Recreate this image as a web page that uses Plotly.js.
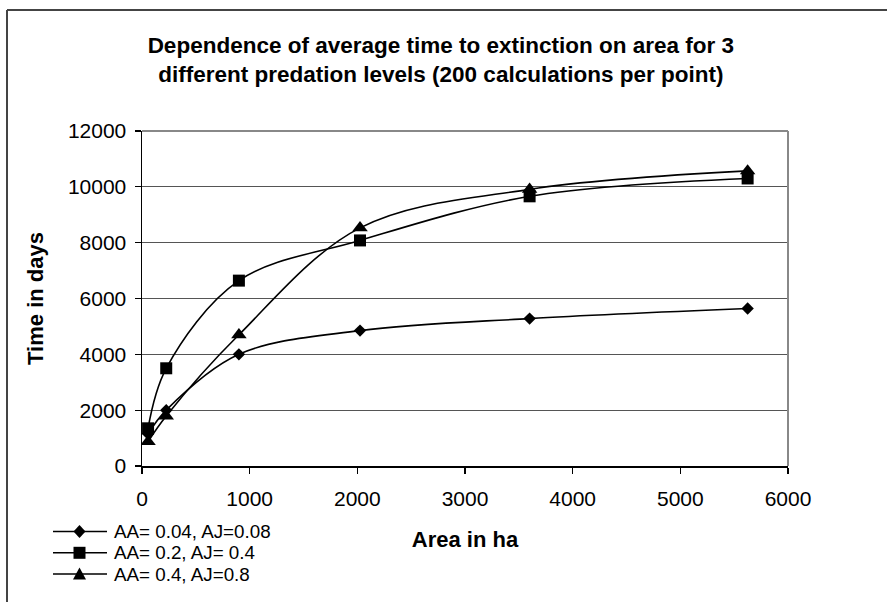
<!DOCTYPE html>
<html>
<head>
<meta charset="utf-8">
<script src="https://cdn.plot.ly/plotly-3.0.1.min.js"></script>
<style>html,body{margin:0;padding:0;background:#fff;}#chart{width:887px;height:602px;}</style>
</head>
<body>
<div id="chart"></div>
<script>
// Data
const areas = [56.25, 225, 900, 2025, 3600, 5625];
const seriesNames = ["AA= 0.04, AJ=0.08", "AA= 0.2, AJ= 0.4", "AA= 0.4, AJ=0.8"];
const lowPredation = [1150, 2000, 4000, 4850, 5280, 5640];
const midPredation = [1350, 3500, 6640, 8080, 9660, 10300];
const highPredation = [870, 1790, 4700, 8530, 9910, 10570];
const xTicks = [0, 1000, 2000, 3000, 4000, 5000, 6000];
const yTicks = [0, 2000, 4000, 6000, 8000, 10000, 12000];
const titleLines = ["Dependence of average time to extinction on area for 3", "different predation levels (200 calculations per point)"];
const xTitle = "Area in ha";
const yTitle = "Time in days";

const FONT = "Liberation Sans, Arial, sans-serif";
const symbols = ["diamond", "square", "triangle-up"];
const sizes = [9.5, 12, 13.5];
const allSeries = [lowPredation, midPredation, highPredation];

const traces = allSeries.map((ys, i) => ({
  type: "scatter",
  mode: "lines+markers",
  name: seriesNames[i],
  x: areas,
  y: ys,
  showlegend: false,
  line: {color: "#000", width: 1.6, shape: "spline", smoothing: 1},
  marker: {symbol: symbols[i], size: sizes[i], color: "#000", line: {width: 0}}
}));

// manual legend (tight row spacing like the original)
const legRowsPx = [531.5, 552.8, 574];
const L = 142, T = 131, W = 646, H = 335;
const px2x = p => (p - L) / W;
const py2y = p => (T + H - p) / H;

const shapes = [
  // outer frame (left and top)
  {type: "line", xref: "paper", yref: "paper", x0: px2x(7), x1: px2x(7), y0: py2y(610), y1: py2y(10), line: {color: "#444", width: 2}},
  {type: "line", xref: "paper", yref: "paper", x0: px2x(7), x1: px2x(895), y0: py2y(10), y1: py2y(10), line: {color: "#444", width: 2}},
  // plot area border top/right
  {type: "line", xref: "paper", yref: "paper", x0: 0, x1: 1, y0: 1, y1: 1, line: {color: "#888", width: 2}},
  {type: "line", xref: "paper", yref: "paper", x0: 1, x1: 1, y0: 0, y1: 1, line: {color: "#888", width: 2}}
];
const markerPaths = [
  "M0,6.5 L6,0 L0,-6.5 L-6,0 Z",
  "M-6,-6 L6,-6 L6,6 L-6,6 Z",
  "M-6.5,-5.5 L6.5,-5.5 L0,6.5 Z"
];
const annotations = [];
seriesNames.forEach((nm, i) => {
  const yy = py2y(legRowsPx[i]);
  shapes.push({type: "line", xref: "paper", yref: "paper", x0: px2x(53), x1: px2x(107), y0: yy, y1: yy, line: {color: "#000", width: 1.6}});
  shapes.push({type: "path", xref: "paper", yref: "paper", xsizemode: "pixel", ysizemode: "pixel",
    xanchor: px2x(79.5), yanchor: yy, path: markerPaths[i], fillcolor: "#000", line: {width: 0}});
  annotations.push({xref: "paper", yref: "paper", x: px2x(113), y: yy, xanchor: "left", yanchor: "middle",
    text: nm, showarrow: false, borderpad: 0, font: {family: FONT, size: 18.8, color: "#000"}});
});

const layout = {
  width: 887, height: 602,
  margin: {l: L, r: 887 - L - W, t: T, b: 602 - T - H, pad: 0},
  paper_bgcolor: "#fff", plot_bgcolor: "#fff",
  font: {family: FONT, color: "#000"},
  title: {
    text: titleLines.join("<br>"),
    font: {family: FONT, size: 22.5, weight: "bold", color: "#000"},
    x: 0.497, xref: "container", xanchor: "center",
    y: 1 - 53 / 602, yref: "container", yanchor: "middle"
  },
  xaxis: {
    range: [0, 6000], tickvals: xTicks, ticktext: xTicks.map(String),
    ticks: "outside", ticklen: 6, tickcolor: "#000", tickwidth: 1.2,
    showline: true, linecolor: "#000", linewidth: 1.5,
    showgrid: false, zeroline: false,
    tickfont: {family: FONT, size: 21, color: "#000"},
    ticklabelstandoff: 7,
    title: {text: xTitle, font: {family: FONT, size: 22, weight: "bold", color: "#000"}, standoff: 23},
    fixedrange: true
  },
  yaxis: {
    range: [0, 12000], tickvals: yTicks, ticktext: yTicks.map(String),
    ticks: "outside", ticklen: 6, tickcolor: "#000", tickwidth: 1.2,
    showline: true, linecolor: "#000", linewidth: 1.5,
    showgrid: true, gridcolor: "#555", gridwidth: 1.2, zeroline: false,
    tickfont: {family: FONT, size: 21, color: "#000"},
    ticklabelstandoff: 4,
    title: {text: yTitle, font: {family: FONT, size: 22, weight: "bold", color: "#000"}, standoff: 18},
    fixedrange: true
  },
  shapes: shapes,
  annotations: annotations,
  showlegend: false
};

Plotly.newPlot("chart", traces, layout, {displayModeBar: false, staticPlot: true});
</script>
</body>
</html>
